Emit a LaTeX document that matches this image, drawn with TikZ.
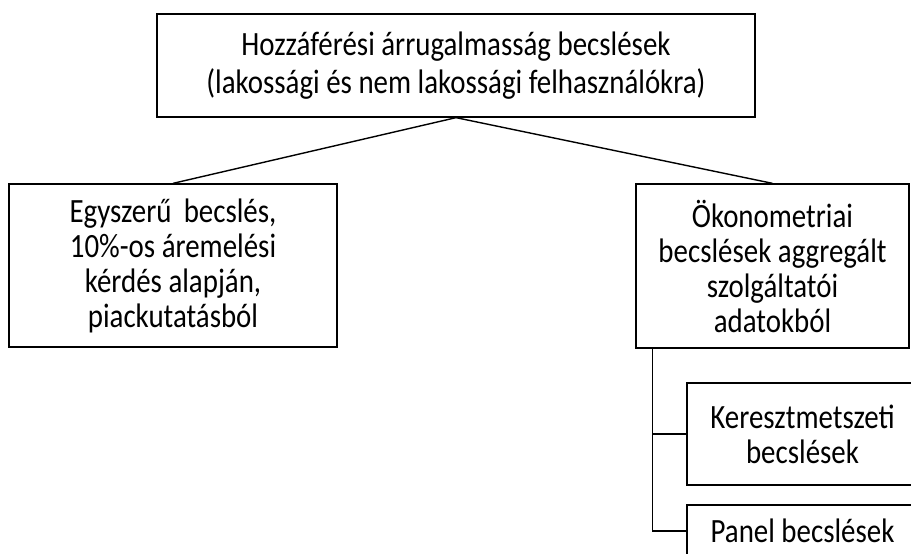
\documentclass[tikz,border=0pt]{standalone}
\usepackage{fontspec}
\setmainfont{Carlito}[FakeStretch=0.85]
\begin{document}
\begin{tikzpicture}[x=1pt,y=-1pt,
  box/.style={draw,line width=1.3pt,inner sep=0pt,align=center,
    font=\fontsize{34}{35}\selectfont},
  link/.style={line width=1.4pt}]
\clip (0,0) rectangle (911,554);
\node[box,minimum width=598pt,minimum height=103pt,font=\fontsize{34}{38}\selectfont] (top) at (456,65.5)
  {Hozzáférési árrugalmasság becslések\\(lakossági és nem lakossági felhasználókra)};
\node[box,minimum width=328pt,minimum height=163pt] (simple) at (173,265.5)
  {Egyszerű\, becslés,\\10\%-os áremelési\\kérdés alapján,\\piackutatásból};
\node[box,minimum width=273pt,minimum height=164pt] (econ) at (772.5,266)
  {Ökonometriai\\becslések aggregált\\szolgáltatói\\adatokból};
\node[box,minimum width=231pt,minimum height=102pt] (cross) at (802.5,434)
  {Keresztmetszeti\\becslések};
\node[box,minimum width=231pt,minimum height=52pt] (panel) at (802.5,531)
  {Panel becslések};
\coordinate (trunk) at ([xshift=17pt]econ.south west);
\draw[link] (top.south)--(simple.north);
\draw[link] (top.south)--(econ.north);
\draw[link] (trunk) |- (cross.west);
\draw[link] (trunk) |- (panel.west);
\end{tikzpicture}
\end{document}
